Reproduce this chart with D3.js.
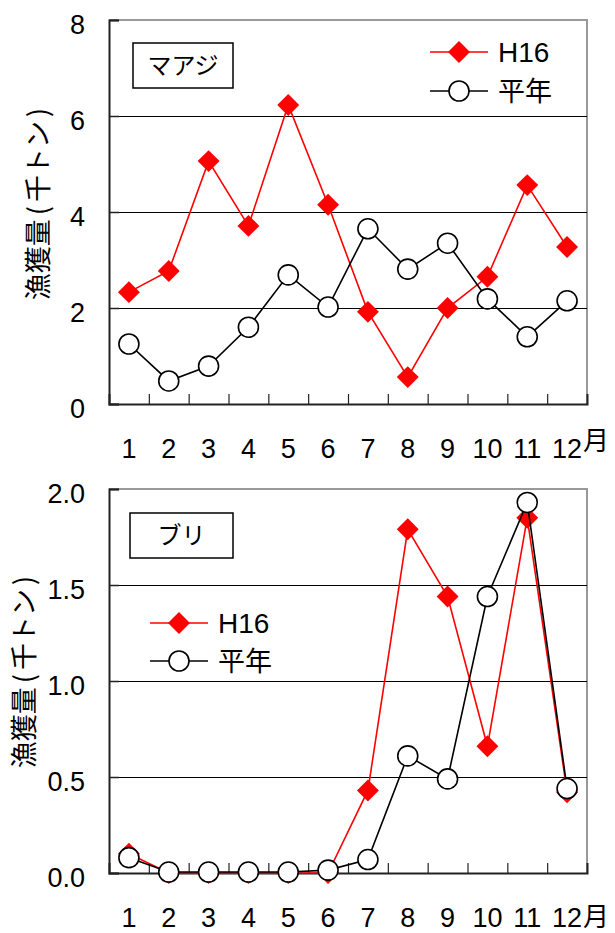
<!DOCTYPE html>
<html><head><meta charset="utf-8">
<script src="https://cdn.jsdelivr.net/npm/d3@7"></script>
<style>body{margin:0;background:#fff}</style>
</head><body><svg id="c" width="615" height="933"></svg>
<script>
const months = ["1","2","3","4","5","6","7","8","9","10","11","12"];
const ajiH16 = [2.33,2.77,5.06,3.71,6.23,4.15,1.92,0.56,2.0,2.65,4.56,3.27];
const ajiAvg = [1.25,0.48,0.79,1.6,2.69,2.02,3.65,2.81,3.35,2.19,1.4,2.15];
const buriH16 = [0.10,0.0,0.0,0.0,0.0,0.0,0.43,1.79,1.44,0.66,1.85,0.42];
const buriAvg = [0.08,0.005,0.005,0.005,0.005,0.015,0.07,0.61,0.49,1.44,1.93,0.44];
const ajiTicks = [0,2,4,6,8];
const buriTicks = [0,0.5,1,1.5,2];
const seriesNames = ["H16","平年"];
const yTitleParts = ["漁獲量","(","千トン",")"];

const svg = d3.select("#c");
const NUM = "'Liberation Sans', Arial, sans-serif";
const JP = "'Noto Sans CJK JP', sans-serif";

function chart(o){
  const g = svg.append("g");
  const x = d3.scaleBand().domain(months).range([o.x0,o.x1]).paddingInner(0).paddingOuter(0);
  const xl = d3.scaleLinear().domain([0,12]).range([o.x0,o.x1]);
  const y = d3.scaleLinear().domain(o.domain).range([o.y1,o.y0]);
  g.append("path").attr("d",`M${o.x0},${o.y0}H${o.x1}V${o.y1}`).attr("fill","none").attr("stroke","#999").attr("stroke-width",2);
  g.selectAll(".grid").data(o.ticks.slice(1,-1)).join("line")
    .attr("x1",o.x0).attr("x2",o.x1).attr("y1",d=>Math.round(y(d))+0.5).attr("y2",d=>Math.round(y(d))+0.5)
    .attr("stroke","#000").attr("stroke-width",1);
  const ya = g.append("g").attr("transform",`translate(${o.x0},0)`)
    .call(d3.axisLeft(y).tickValues(o.ticks).tickSize(-10).tickPadding(0).tickFormat(d=>o.fmt(d)));
  ya.select(".domain").attr("stroke","#222").attr("stroke-width",2);
  ya.selectAll(".tick line").attr("stroke","#222").attr("stroke-width",1.5);
  ya.selectAll(".tick text").attr("x",-24).attr("dy","0.36em").attr("y",4)
    .attr("font-family",NUM).attr("font-size",27).attr("fill","#000");
  const xa = g.append("g").attr("transform",`translate(0,${o.y1})`)
    .call(d3.axisBottom(xl).tickValues(d3.range(1,12)).tickSize(-10).tickFormat(""));
  xa.select(".domain").attr("stroke","#222").attr("stroke-width",2);
  xa.selectAll(".tick line").attr("stroke","#222").attr("stroke-width",1.2);
  const xb = g.append("g").attr("transform",`translate(0,${o.y1})`)
    .call(d3.axisBottom(x).tickSize(0).tickPadding(0));
  xb.select(".domain").remove();
  xb.selectAll(".tick text").attr("y",o.labY).attr("dy","0.36em")
    .attr("font-family",NUM).attr("font-size",27).attr("fill","#000");
  g.append("text").attr("x",o.x1-4).attr("y",o.y1+o.tsukiY).attr("dy","0.35em")
    .attr("font-family",JP).attr("font-size",26).text("月");
  const t = g.append("text").attr("transform",`translate(${o.titleX},${o.titleY}) rotate(-90)`)
    .attr("text-anchor","middle").attr("dy","0.35em")
    .attr("font-family",JP).attr("font-size",27);
  t.selectAll("tspan").data(yTitleParts).join("tspan").attr("dx",(d,i)=>i?4:0).text(d=>d);
  g.append("rect").attr("x",o.box[0]).attr("y",o.box[1]).attr("width",o.box[2]).attr("height",o.box[3])
    .attr("fill","#fff").attr("stroke","#000").attr("stroke-width",1.5);
  g.append("text").attr("x",o.box[0]+o.box[2]/2).attr("y",o.box[1]+o.box[3]/2).attr("dy","0.35em")
    .attr("text-anchor","middle").attr("font-family",JP).attr("font-size",24).text(o.name);

  const cx = (d,i)=>x(months[i])+x.bandwidth()/2;
  const line = d3.line().x(cx).y(d=>y(d));
  const diamond = d3.symbol().type(d3.symbolSquare).size(240);
  g.append("path").attr("d",line(o.h16)).attr("fill","none").attr("stroke","#f00").attr("stroke-width",1.6);
  g.selectAll(".dm").data(o.h16).join("path")
    .attr("d",diamond()).attr("transform",(d,i)=>`translate(${cx(d,i)},${y(d)}) rotate(45)`).attr("fill","#f00");
  g.append("path").attr("d",line(o.avg)).attr("fill","none").attr("stroke","#000").attr("stroke-width",1.6);
  g.selectAll(".ci").data(o.avg).join("circle")
    .attr("cx",cx).attr("cy",d=>y(d)).attr("r",10).attr("fill","#fff").attr("stroke","#000").attr("stroke-width",1.6);
  const L = o.leg;
  [0,1].forEach(k=>{
    const yy = L.y + k*L.dy;
    g.append("line").attr("x1",L.x).attr("x2",L.x+58).attr("y1",yy).attr("y2",yy)
      .attr("stroke",k?"#000":"#f00").attr("stroke-width",1.6);
    if(!k) g.append("path").attr("d",diamond()).attr("transform",`translate(${L.x+29},${yy}) rotate(45)`).attr("fill","#f00");
    else g.append("circle").attr("cx",L.x+29).attr("cy",yy).attr("r",10).attr("fill","#fff").attr("stroke","#000").attr("stroke-width",1.6);
    g.append("text").attr("x",L.x+68).attr("y",yy).attr("dy","0.36em")
      .attr("font-family",k?JP:NUM).attr("font-size",k?27:28).text(seriesNames[k]);
  });
}

chart({x0:109,x1:587,y0:20,y1:404,domain:[0,8],ticks:ajiTicks,fmt:d=>d3.format("d")(d),
  h16:ajiH16,avg:ajiAvg,labY:44,tsukiY:37,titleX:39,titleY:204,name:"マアジ",
  box:[133,43,100,45],leg:{x:430,y:52,dy:39}});
chart({x0:109,x1:587,y0:489,y1:873,domain:[0,2],ticks:buriTicks,fmt:d=>d3.format(".1f")(d),
  h16:buriH16,avg:buriAvg,labY:44,tsukiY:44,titleX:25,titleY:672,name:"ブリ",
  box:[130,513,103,45],leg:{x:150,y:623,dy:38}});
</script></body></html>
